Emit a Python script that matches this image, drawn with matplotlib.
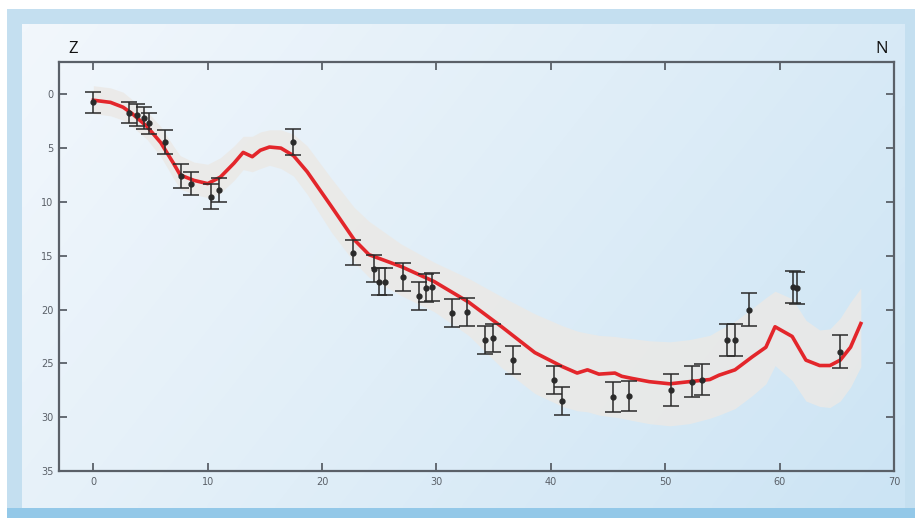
import matplotlib
matplotlib.use("Agg")
import matplotlib.pyplot as plt
import numpy as np
from matplotlib.colors import LinearSegmentedColormap
from matplotlib.patches import Rectangle

# model curve (red line) and its uncertainty band
line_x = [0.0, 1.5, 2.6, 3.4, 4.7, 5.9, 7.0, 7.6, 8.8, 10.0, 11.1, 12.3, 13.1, 13.9, 14.6, 15.4, 16.4,
          17.5, 18.7, 20.8, 22.8, 24.1, 26.9, 29.8, 32.8, 35.7, 38.6, 41.0, 42.3, 43.2, 44.2, 45.6,
          46.2, 47.1, 48.6, 50.4, 52.1, 53.9, 54.7, 56.1, 57.6, 58.8, 59.6, 61.1, 62.3, 63.5, 64.4,
          65.3, 66.2, 67.1]
line_y = [0.55, 0.75, 1.2, 1.8, 3.0, 4.5, 6.4, 7.5, 8.0, 8.3, 7.7, 6.4, 5.4, 5.8, 5.2, 4.9, 5.0,
          5.7, 7.2, 10.4, 13.5, 14.9, 16.0, 17.4, 19.3, 21.6, 24.0, 25.3, 25.9, 25.6, 26.0, 25.9,
          26.2, 26.4, 26.7, 26.9, 26.7, 26.5, 26.1, 25.6, 24.4, 23.5, 21.6, 22.5, 24.7, 25.2, 25.2,
          24.7, 23.5, 21.3]
band_top = [-0.8, -0.6, -0.2, 0.5, 1.6, 3.0, 4.8, 5.7, 6.3, 6.5, 5.9, 4.8, 3.9, 3.9, 3.5, 3.3, 3.3,
            3.7, 4.8, 7.8, 10.5, 11.8, 13.9, 15.6, 17.1, 18.8, 20.4, 21.5, 22.0, 22.2, 22.4, 22.5,
            22.6, 22.7, 22.9, 23.0, 22.8, 22.4, 21.9, 21.1, 19.9, 18.9, 18.3, 19.0, 21.0, 21.9, 21.8,
            20.8, 19.3, 18.0]
band_bot = [1.8, 2.0, 2.4, 3.0, 4.2, 5.8, 7.8, 8.8, 9.3, 9.6, 9.2, 8.0, 7.0, 7.2, 6.9, 6.6, 6.9,
            7.6, 9.3, 12.8, 15.6, 17.0, 18.7, 20.2, 22.4, 25.4, 27.8, 29.0, 29.4, 29.5, 29.8, 30.0,
            30.1, 30.3, 30.6, 30.8, 30.6, 30.1, 29.8, 29.2, 28.0, 26.9, 25.2, 26.6, 28.5, 29.0, 29.1,
            28.5, 27.2, 25.3]

# measured points with error bars
pts_x = [0.0, 3.1, 3.8, 4.4, 4.9, 6.3, 7.7, 8.5, 10.3, 11.0, 17.5, 22.7, 24.5, 25.0, 25.5, 27.1,
         28.5, 29.1, 29.6, 31.4, 32.7, 34.2, 34.9, 36.7, 40.3, 41.0, 45.4, 46.8, 50.5, 52.3, 53.2,
         55.4, 56.1, 57.3, 61.2, 61.5, 65.3]
pts_y = [0.75, 1.7, 1.9, 2.2, 2.7, 4.45, 7.6, 8.3, 9.5, 8.9, 4.45, 14.7, 16.2, 17.4, 17.4, 17.0,
         18.75, 18.0, 17.9, 20.3, 20.2, 22.8, 22.6, 24.7, 26.5, 28.5, 28.1, 28.0, 27.5, 26.7, 26.5,
         22.8, 22.8, 20.0, 17.9, 18.0, 23.9]
pts_err = [1.0, 1.0, 1.0, 1.0, 1.0, 1.1, 1.1, 1.1, 1.15, 1.15, 1.2, 1.2, 1.25, 1.25, 1.25, 1.3,
           1.3, 1.3, 1.3, 1.3, 1.3, 1.3, 1.3, 1.3, 1.3, 1.3, 1.4, 1.4, 1.5, 1.45, 1.45,
           1.5, 1.5, 1.5, 1.5, 1.5, 1.5]

x_ticks = [0, 10, 20, 30, 40, 50, 60, 70]
y_ticks = [0, 5, 10, 15, 20, 25, 30, 35]

W, H = 915, 518
fig = plt.figure(figsize=(W / 100, H / 100), dpi=100, facecolor="white")

# background panel: light blue frame with a soft gradient inside
bg = fig.add_axes([0, 0, 1, 1], zorder=-5)
bg.add_patch(Rectangle((7 / W, 0), (W - 7) / W, (H - 9) / H, facecolor="#c4dff0", edgecolor="none", zorder=0))
bg.add_patch(Rectangle((7 / W, 0), (W - 7) / W, 10 / H, facecolor="#93c8e8", edgecolor="none", zorder=0))
cmap = LinearSegmentedColormap.from_list("bgrad", ["#f2f7fc", "#e0eef8", "#cce4f4"])
gx, gy = np.meshgrid(np.linspace(0, 1, 200), np.linspace(0, 1, 120))
grad = 0.7 * gx + 0.3 * gy
bg.imshow(grad, cmap=cmap, extent=(22 / W, 905 / W, 10 / H, (H - 24) / H),
          aspect="auto", origin="upper", interpolation="bilinear", zorder=2)
bg.set_xlim(0, 1)
bg.set_ylim(0, 1)
bg.axis("off")

ax = fig.add_axes([59 / W, (H - 471) / H, (894 - 59) / W, (471 - 62) / H])
ax.set_facecolor("none")

ax.fill_between(line_x, band_top, band_bot, color="#ebe9e6", lw=0, alpha=0.85, zorder=1)
ax.plot(line_x, line_y, color="#e3262b", lw=2.6, zorder=3)
ax.errorbar(pts_x, pts_y, yerr=pts_err, fmt="o", color="#2a2a2a", ms=3.5, elinewidth=1.1,
            capsize=6, capthick=1.1, zorder=4)

ax.set_xlim(-3, 70)
ax.set_ylim(35, -3)
ax.set_xticks(x_ticks)
ax.set_yticks(y_ticks)
ax.tick_params(direction="in", length=6, width=1.3, colors="#5a6068", labelsize=7,
               top=True, right=True, labeltop=False, labelright=False, pad=4)
for s in ax.spines.values():
    s.set_color("#5a6068")
    s.set_linewidth(1.6)

fig.text(68 / W, 1 - 49 / H, "Z", fontsize=12, family="Open Sans", color="#111111", va="center", ha="left")
fig.text(882 / W, 1 - 49 / H, "N", fontsize=12, family="Open Sans", color="#111111", va="center", ha="center")

plt.savefig("out.png", dpi=100)
